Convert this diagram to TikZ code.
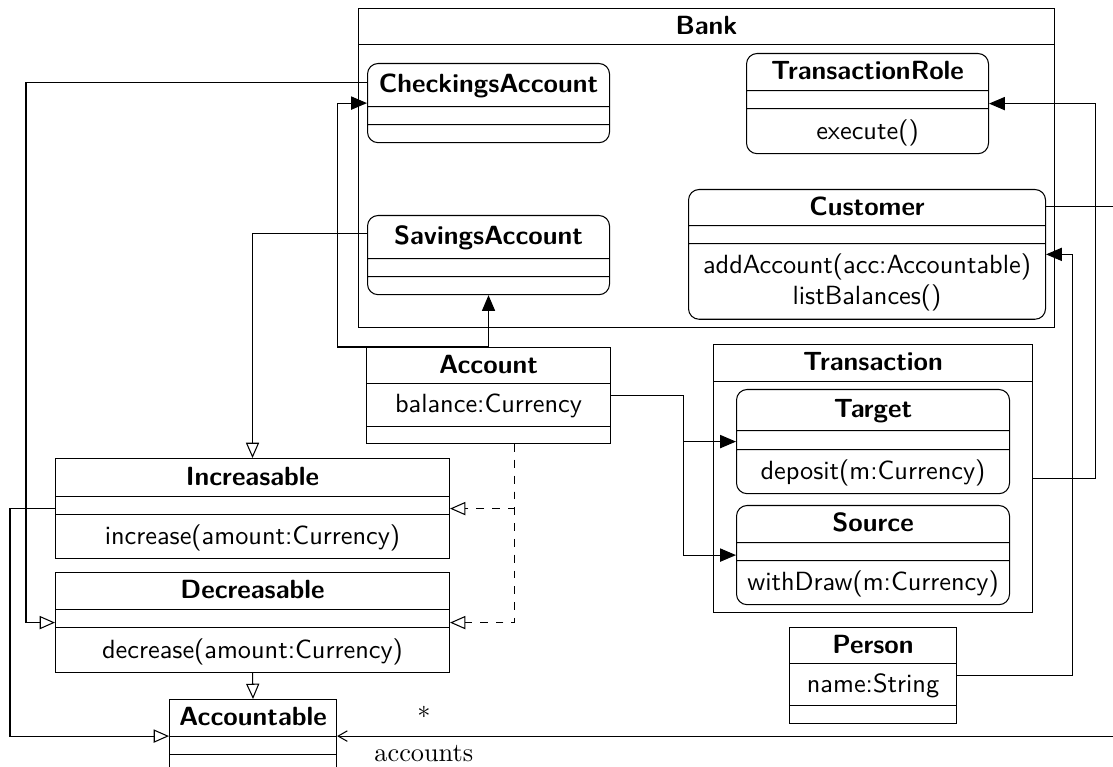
\documentclass[tikz,border=0pt]{standalone}
\usepackage{amsmath}
\usepackage{tikz}
\usetikzlibrary{shapes.multipart,arrows.meta}

\newdimen\pixel
\pixel=0.38pt
\newcommand{\rowh}[1]{\rule[\dimexpr 3pt-#1\pixel/2\relax]{0pt}{#1\pixel}}

\tikzset{
  classbox/.style={rectangle split, rectangle split parts=3, draw, anchor=north west,
    inner sep=0pt, align=center, font=\sffamily},
  rolebox/.style={classbox, rounded corners=4pt},
  packagebox/.style={classbox, rectangle split parts=2},
  assoc/.style={-{Triangle[length=6pt, width=5pt]}},
  inherit/.style={-{Triangle[open, length=5.8pt, width=5pt]}},
  realize/.style={inherit, dashed},
}

\begin{document}
\begin{tikzpicture}[x=0.38pt, y=-0.38pt]
    \useasboundingbox (0, 0) rectangle (1113, 767);

    \node (Bank) at (358, 8) [packagebox, text width=696\pixel]
      {\rowh{35}\textbf{Bank} \nodepart{two}\rowh{282}};
    \node (CheckingsAccount) at (367, 63) [rolebox, text width=242\pixel]
      {\rowh{42}\textbf{CheckingsAccount} \nodepart{two}\rowh{17} \nodepart{three}\rowh{17}};
    \node (SavingsAccount) at (367, 215) [rolebox, text width=242\pixel]
      {\rowh{42}\textbf{SavingsAccount} \nodepart{two}\rowh{17} \nodepart{three}\rowh{17}};
    \node (TransactionRole) at (746, 53) [rolebox, text width=242\pixel]
      {\rowh{36}\textbf{TransactionRole} \nodepart{two}\rowh{17} \nodepart{three}\rowh{44}execute()};
    \node (Customer) at (688, 189) [rolebox, text width=357\pixel]
      {\rowh{35}\textbf{Customer} \nodepart{two}\rowh{17}
       \nodepart{three}\rule{0pt}{29\pixel}addAccount(acc:Accountable) \\
       \rule[-14\pixel]{0pt}{14\pixel}listBalances()};

    \node (Account) at (366, 347) [classbox, text width=244\pixel]
      {\rowh{35}\textbf{Account} \nodepart{two}\rowh{42}balance:Currency \nodepart{three}\rowh{16}};

    \node (Transaction) at (713, 344) [packagebox, text width=319\pixel]
      {\rowh{36}\textbf{Transaction} \nodepart{two}\rowh{230}};
    \node (Target) at (736, 389) [rolebox, text width=273\pixel]
      {\rowh{40}\textbf{Target} \nodepart{two}\rowh{18} \nodepart{three}\rowh{43}deposit(m:Currency)};
    \node (Source) at (736, 505) [rolebox, text width=273\pixel]
      {\rowh{36}\textbf{Source} \nodepart{two}\rowh{17} \nodepart{three}\rowh{43}withDraw(m:Currency)};
    \node (Person) at (789, 627) [classbox, text width=167\pixel]
      {\rowh{35}\textbf{Person} \nodepart{two}\rowh{41}name:String \nodepart{three}\rowh{17}};

    \node (Increasable) at (55, 458) [classbox, text width=394\pixel]
      {\rowh{37}\textbf{Increasable} \nodepart{two}\rowh{17} \nodepart{three}\rowh{43}increase(amount:Currency)};
    \node (Decreasable) at (55, 572) [classbox, text width=394\pixel]
      {\rowh{36}\textbf{Decreasable} \nodepart{two}\rowh{17} \nodepart{three}\rowh{44}decrease(amount:Currency)};
    \node (Accountable) at (169, 699) [classbox, text width=167\pixel]
      {\rowh{36}\textbf{Accountable} \nodepart{two}\rowh{17} \nodepart{three}\rowh{17}};

    \draw[assoc] (Account.north) -- (SavingsAccount.south);
    \draw[assoc] (Account.north) -- ++(-151, 0) |- (CheckingsAccount.west);
    \draw[assoc] (Account.east) -- ++(72, 0) |- (Target.west);
    \draw[assoc] (Account.east) -- ++(72, 0) |- (Source.west);
    \draw[assoc] (Transaction.east) -- ++(62, 0) |- (TransactionRole.east);
    \draw[assoc] (Person.east) -- ++(115, 0) |- (Customer.east);

    \draw[inherit] ([yshift=21\pixel]CheckingsAccount.west) -- ++(-341, 0) |- (Decreasable.west);
    \draw[inherit] ([yshift=22\pixel]SavingsAccount.west) -| (Increasable.north);
    \draw[inherit] (Increasable.west) -- ++(-45, 0) |- (Accountable.west);
    \draw[inherit] (Decreasable.south) -- (Accountable.north);
    \draw[realize] ([xshift=26\pixel]Account.south) |- (Increasable.east);
    \draw[realize] ([xshift=26\pixel]Account.south) |- (Decreasable.east);

    \draw[-{Straight Barb[length=3.5pt, width=4pt]}] ([yshift=48\pixel]Customer.east) -- ++(80, 0)
      |- node[pos=0.945, above=3pt] {$*$} node[pos=0.945, below] {accounts} (Accountable.east);
\end{tikzpicture}
\end{document}
